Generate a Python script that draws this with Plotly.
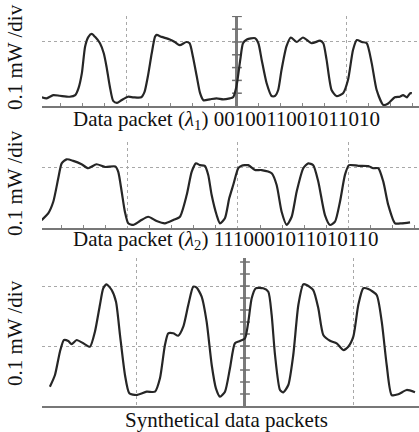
import plotly.graph_objects as go

# ---- Panel 1: data packet (lambda1) 0010011001011010  (x in time div, y in 0.1 mW div)
p1_x = [-1.775, -1.73, -1.67, -1.61, -1.52, -1.47, -1.44, -1.41, -1.38, -1.35, -1.32, -1.29, -1.245,
        -1.21, -1.185, -1.155, -1.125, -1.09, -1.05, -0.99, -0.94, -0.87, -0.84, -0.81, -0.775, -0.745,
        -0.73, -0.685, -0.61, -0.565, -0.52, -0.46, -0.43, -0.40, -0.365, -0.335, -0.305, -0.245, -0.185,
        -0.125, -0.065, -0.035, -0.005, 0.03, 0.055, 0.09, 0.165, 0.195, 0.225, 0.27, 0.315, 0.345, 0.375,
        0.405, 0.45, 0.49, 0.545, 0.60, 0.68, 0.755, 0.785, 0.815, 0.86, 0.905, 0.965, 1.01, 1.055, 1.09,
        1.135, 1.18, 1.225, 1.27, 1.33, 1.375, 1.435, 1.48, 1.51, 1.545, 1.575, 1.59]
p1_y = [0.136, 0.12, 0.17, 0.16, 0.145, 0.17, 0.28, 0.51, 0.93, 1.08, 1.125, 1.08, 0.98,
        0.82, 0.61, 0.30, 0.08, 0.05, 0.09, 0.145, 0.136, 0.136, 0.22, 0.46, 0.82, 1.08,
        1.11, 1.08, 1.04, 1.00, 0.95, 1.00, 0.98, 0.77, 0.46, 0.20, 0.09, 0.105, 0.12,
        0.105, 0.12, 0.136, 0.30, 0.72, 0.98, 1.04, 1.06, 0.98, 0.72, 0.355, 0.156, 0.156, 0.25,
        0.56, 0.93, 1.07, 1.00, 1.07, 0.98, 1.02, 0.98, 0.72, 0.25, 0.156, 0.20, 0.41, 0.875, 1.03,
        1.00, 0.98, 0.67, 0.25, 0.016, 0.04, 0.136, 0.145, 0.17, 0.136, 0.20, 0.20]

# ---- Panel 2: data packet (lambda2) 1110001011010110
p2_x = [-1.776, -1.717, -1.671, -1.626, -1.595, -1.55, -1.49, -1.415, -1.355, -1.28, -1.20, -1.11,
        -1.083, -1.052, -1.023, -0.993, -0.948, -0.887, -0.812, -0.736, -0.661, -0.586, -0.525, -0.464,
        -0.419, -0.38, -0.344, -0.30, -0.269, -0.238, -0.193, -0.163, -0.118, -0.079, -0.043, 0.003,
        0.033, 0.093, 0.154, 0.214, 0.305, 0.35, 0.395, 0.441, 0.486, 0.531, 0.591, 0.636, 0.681,
        0.727, 0.787, 0.833, 0.878, 0.923, 0.968, 1.005, 1.089, 1.179, 1.224, 1.27, 1.315, 1.36,
        1.421, 1.481, 1.557]
p2_y = [0.13, 0.24, 0.43, 0.815, 1.06, 1.126, 1.10, 1.045, 0.98, 1.045, 1.00, 1.01,
        0.92, 0.595, 0.267, 0.077, 0.05, 0.115, 0.185, 0.115, 0.077, 0.13, 0.185, 0.54,
        0.92, 1.06, 1.03, 1.02, 0.87, 0.54, 0.213, 0.077, 0.16, 0.487, 0.705, 0.98,
        1.02, 1.03, 0.95, 0.95, 0.897, 0.705, 0.267, 0.05, 0.185, 0.595, 0.98, 1.06, 1.03,
        0.76, 0.213, 0.05, 0.103, 0.43, 0.87, 1.03, 1.02, 1.016, 0.98, 0.98, 0.76, 0.377,
        0.077, 0.077, 0.093]

# ---- Panel 3: synthetical data packets
p3_x = [-1.806, -1.759, -1.713, -1.676, -1.636, -1.605, -1.558, -1.497, -1.435, -1.389, -1.343, -1.312,
        -1.281, -1.234, -1.194, -1.157, -1.111, -1.071, -1.003, -0.91, -0.833, -0.787, -0.741, -0.71,
        -0.664, -0.618, -0.571, -0.525, -0.479, -0.447, -0.401, -0.355, -0.308, -0.269, -0.231, -0.185,
        -0.139, -0.093, -0.046, 0.0, 0.031, 0.062, 0.099, 0.169, 0.216, 0.247, 0.278, 0.324, 0.355,
        0.401, 0.447, 0.494, 0.54, 0.571, 0.632, 0.679, 0.725, 0.787, 0.849, 0.91, 0.956, 1.003,
        1.049, 1.095, 1.142, 1.219, 1.266, 1.312, 1.358, 1.419, 1.497, 1.574]
p3_y = [0.32, 0.517, 0.905, 1.10, 1.083, 1.03, 1.10, 1.045, 0.988, 1.238, 1.683, 1.962,
        2.028, 1.933, 1.738, 1.183, 0.517, 0.212, 0.183, 0.238, 0.238, 0.462, 1.017, 1.212,
        1.212, 1.172, 1.322, 1.683, 1.988, 1.972, 1.822, 1.405, 0.683, 0.295, 0.155, 0.238,
        0.628, 1.045, 1.083, 1.128, 1.405, 1.795, 1.962, 1.962, 1.905, 1.517, 0.85, 0.267, 0.228,
        0.35, 0.85, 1.683, 2.028, 2.017, 1.933, 1.628, 1.183, 1.088, 1.045, 0.933, 0.988, 1.155,
        1.683, 1.962, 1.95, 1.85, 1.405, 0.683, 0.183, 0.195, 0.267, 0.228]

center_ticks_1 = [0.2, 0.4, 0.6, 0.8, 1.0, 1.2, 1.4]
center_ticks_3 = [0.2, 0.4, 0.6, 0.8, 1.0, 1.2, 1.4, 1.6, 1.8, 2.0, 2.2, 2.4]

y_label = "0.1 mW /div"
captions = ["Data packet (<i>λ</i><sub>1</sub>) 0010011001011010",
            "Data packet (<i>λ</i><sub>2</sub>) 1110001011010110",
            "Synthetical data packets"]

FONT = "Liberation Serif, Times New Roman, serif"
TRACE = "#262626"
GRID = "#a8a8a8"

fig = go.Figure()

panels = [
    dict(x=p1_x, y=p1_y, xr=[-1.773, 1.655], yr=[0, 1.406], dom=[0.7546, 0.963], zero=True,
         ticks=center_ticks_1, minor=True),
    dict(x=p2_x, y=p2_y, xr=[-1.774, 1.638], yr=[0, 1.41], dom=[0.4722, 0.6713], zero=False,
         ticks=None, minor=True),
    dict(x=p3_x, y=p3_y, xr=[-1.88, 1.611], yr=[0, 2.467], dom=[0.0602, 0.4028], zero=True,
         ticks=center_ticks_3, minor=False),
]

for i, p in enumerate(panels, start=1):
    xa = "x" if i == 1 else f"x{i}"
    ya = "y" if i == 1 else f"y{i}"
    if p["ticks"]:
        fig.add_trace(go.Scatter(x=[0] * len(p["ticks"]), y=p["ticks"], mode="markers",
                                 marker=dict(symbol="line-ew-open", size=7, color="#6f6f6f",
                                             line=dict(color="#6f6f6f", width=1.5)),
                                 xaxis=xa, yaxis=ya, showlegend=False, hoverinfo="skip"))
    fig.add_trace(go.Scatter(x=p["x"], y=p["y"], mode="lines",
                             line=dict(color=TRACE, width=2.2, shape="spline", smoothing=0.6),
                             xaxis=xa, yaxis=ya, showlegend=False, hoverinfo="skip"))
    xkey = "xaxis" if i == 1 else f"xaxis{i}"
    ykey = "yaxis" if i == 1 else f"yaxis{i}"
    xaxis = dict(domain=[0.1, 1.0], range=p["xr"], anchor=ya, showticklabels=False,
                 dtick=1, tick0=0, showgrid=True, gridcolor=GRID, griddash="dot", gridwidth=1,
                 zeroline=p["zero"], zerolinecolor="#7a7a7a", zerolinewidth=2.5,
                 showline=True, linecolor="#777", linewidth=1.5, ticks="")
    if p["minor"]:
        xaxis["minor"] = dict(dtick=0.2, tick0=0, ticks="inside", ticklen=3, tickcolor="#888",
                              showgrid=False)
    fig.update_layout({xkey: xaxis})
    fig.update_layout({ykey: dict(domain=p["dom"], range=p["yr"], anchor=xa, showticklabels=False,
                                  dtick=1, tick0=0, showgrid=True, gridcolor=GRID, griddash="dot",
                                  gridwidth=1, zeroline=False, showline=False, ticks="")})

# y labels
for yc in [1 - 57 / 432, 1 - 183 / 432, 1 - 333 / 432]:
    fig.add_annotation(text=y_label, x=15 / 419, y=yc, xref="paper", yref="paper",
                       textangle=-90, showarrow=False, font=dict(family=FONT, size=21, color="#111"),
                       xanchor="center", yanchor="middle")
# captions
for cap, yc in zip(captions, [1 - 120 / 432, 1 - 240 / 432, 1 - 420 / 432]):
    fig.add_annotation(text=cap, x=226 / 419, y=yc, xref="paper", yref="paper", showarrow=False,
                       font=dict(family=FONT, size=21, color="#111"),
                       xanchor="center", yanchor="middle")

fig.update_layout(width=419, height=432, margin=dict(l=0, r=0, t=0, b=0),
                  paper_bgcolor="white", plot_bgcolor="white")

fig.write_html("out.html")
